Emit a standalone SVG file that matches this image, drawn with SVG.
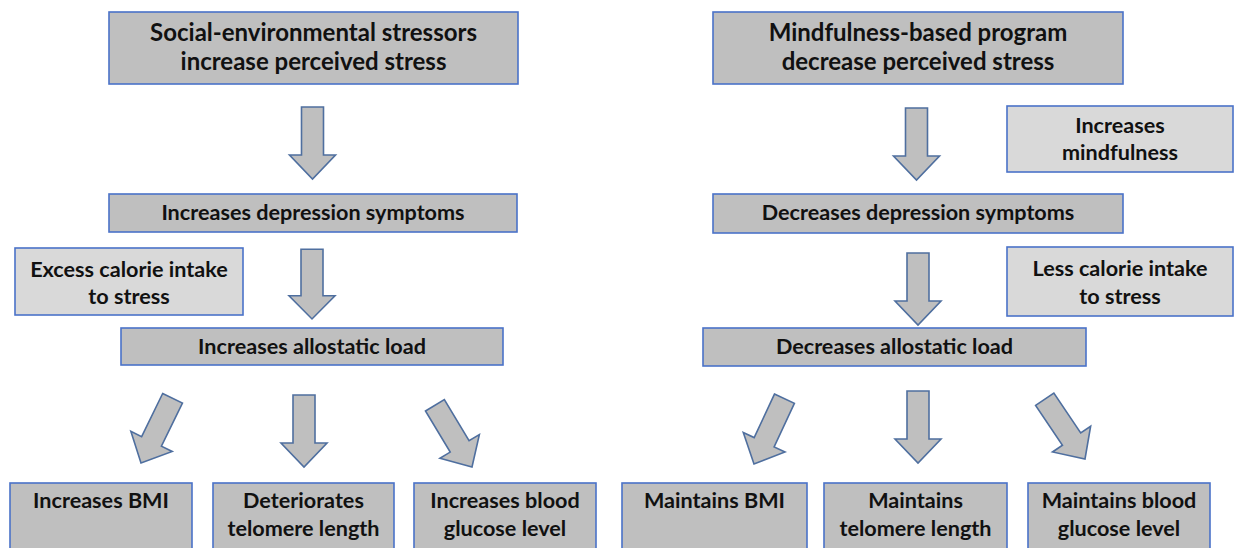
<svg xmlns="http://www.w3.org/2000/svg" width="1235" height="548" viewBox="0 0 1235 548">
<style>
.main{fill:#bfbfbf;stroke:#4a72c8;stroke-width:1.6}
.side{fill:#d9d9d9;stroke:#4a72c8;stroke-width:1.6}
.arr{fill:#bfbfbf;stroke:#4f6f9f;stroke-width:1.6;stroke-linejoin:miter}
text{font-family:Lato,"Liberation Sans",sans-serif;font-weight:bold;fill:#111;text-anchor:middle}
.t1{font-size:24px}
.t2{font-size:21.6px}
</style>
<defs>
<polygon id="arrow" points="-11,-72 11,-72 11,-24 23,-24 0,0 -23,-24 -11,-24"/>
</defs>
<rect width="1235" height="548" fill="#fff"/>

<g id="connectors">
<use href="#arrow" class="arr" transform="translate(312.5,179)"/>
<use href="#arrow" class="arr" transform="translate(312,319) scale(1,0.97)"/>
<use href="#arrow" class="arr" transform="translate(141,463) rotate(26)"/>
<use href="#arrow" class="arr" transform="translate(304,467)"/>
<use href="#arrow" class="arr" transform="translate(472,467) rotate(-31)"/>
<use href="#arrow" class="arr" transform="translate(916.5,180)"/>
<use href="#arrow" class="arr" transform="translate(918,325)"/>
<use href="#arrow" class="arr" transform="translate(754,464) rotate(25)"/>
<use href="#arrow" class="arr" transform="translate(918,463)"/>
<use href="#arrow" class="arr" transform="translate(1085,459) rotate(-34)"/>
</g>

<g id="n-social">
<rect class="main" x="109" y="12" width="409" height="72"/>
<text class="t1" x="313.5" y="41">Social-environmental stressors</text>
<text class="t1" x="313.5" y="70">increase perceived stress</text>
</g>
<g id="n-mindful-prog">
<rect class="main" x="713" y="12" width="410" height="72"/>
<text class="t1" x="918" y="41">Mindfulness-based program</text>
<text class="t1" x="918" y="70">decrease perceived stress</text>
</g>
<g id="n-inc-mindful">
<rect class="side" x="1007" y="106" width="226" height="66"/>
<text class="t2" x="1120" y="133">Increases</text>
<text class="t2" x="1120" y="160">mindfulness</text>
</g>
<g id="n-inc-dep">
<rect class="main" x="109" y="194" width="408" height="38"/>
<text class="t2" x="313" y="220">Increases depression symptoms</text>
</g>
<g id="n-dec-dep">
<rect class="main" x="713" y="194" width="410" height="39"/>
<text class="t2" x="918" y="220">Decreases depression symptoms</text>
</g>
<g id="n-excess">
<rect class="side" x="15" y="248" width="228" height="67"/>
<text class="t2" x="129" y="277">Excess calorie intake</text>
<text class="t2" x="129" y="304">to stress</text>
</g>
<g id="n-less">
<rect class="side" x="1007" y="247" width="226" height="69"/>
<text class="t2" x="1120" y="276">Less calorie intake</text>
<text class="t2" x="1120" y="304">to stress</text>
</g>
<g id="n-inc-allo">
<rect class="main" x="121" y="328" width="382" height="37"/>
<text class="t2" x="312" y="354">Increases allostatic load</text>
</g>
<g id="n-dec-allo">
<rect class="main" x="703" y="328" width="383" height="38"/>
<text class="t2" x="894.5" y="354">Decreases allostatic load</text>
</g>
<g id="n-inc-bmi">
<rect class="main" x="10" y="483" width="182" height="80"/>
<text class="t2" x="101" y="508">Increases BMI</text>
</g>
<g id="n-det-tel">
<rect class="main" x="213" y="483" width="181" height="80"/>
<text class="t2" x="303.5" y="508">Deteriorates</text>
<text class="t2" x="303.5" y="536">telomere length</text>
</g>
<g id="n-inc-glu">
<rect class="main" x="414" y="483" width="182" height="80"/>
<text class="t2" x="505" y="508">Increases blood</text>
<text class="t2" x="505" y="536">glucose level</text>
</g>
<g id="n-main-bmi">
<rect class="main" x="622" y="483" width="185" height="80"/>
<text class="t2" x="714.5" y="508">Maintains BMI</text>
</g>
<g id="n-main-tel">
<rect class="main" x="824" y="483" width="183" height="80"/>
<text class="t2" x="915.5" y="508">Maintains</text>
<text class="t2" x="915.5" y="536">telomere length</text>
</g>
<g id="n-main-glu">
<rect class="main" x="1028" y="483" width="182" height="80"/>
<text class="t2" x="1119" y="508">Maintains blood</text>
<text class="t2" x="1119" y="536">glucose level</text>
</g>
</svg>
